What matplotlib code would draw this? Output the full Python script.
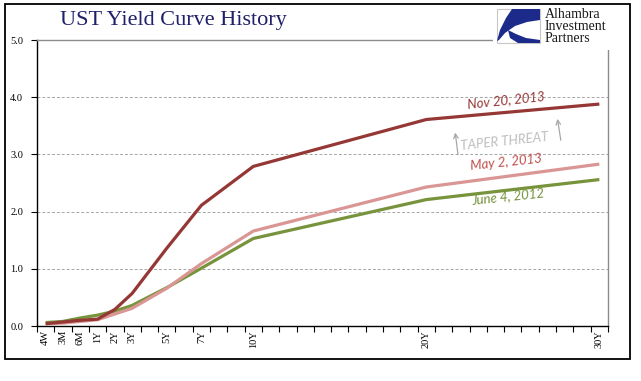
import numpy as np
import matplotlib
matplotlib.use('Agg')
import matplotlib.pyplot as plt
from matplotlib.patches import Rectangle, Polygon

# maturities on a category axis: 4W, 3M, 6M, then every year 1Y..30Y
categories = ['4W', '3M', '6M'] + ['%dY' % y for y in range(1, 31)]
shown = ['4W', '3M', '6M', '1Y', '2Y', '3Y', '5Y', '7Y', '10Y', '20Y', '30Y']

jun_2012 = [0.06, 0.08, 0.14, 0.19, 0.26, 0.36, 0.67, 1.01, 1.53, 2.21, 2.56]
may_2013 = [0.04, 0.05, 0.08, 0.11, 0.21, 0.31, 0.66, 1.09, 1.66, 2.43, 2.83]
nov_2013 = [0.04, 0.07, 0.10, 0.12, 0.29, 0.57, 1.36, 2.11, 2.79, 3.61, 3.88]

series = [
    ('June 4, 2012', jun_2012, '#77933c'),
    ('May 2, 2013', may_2013, '#d99694'),
    ('Nov 20, 2013', nov_2013, '#953735'),
]

W, H = 641, 381
fig = plt.figure(figsize=(W / 100., H / 100.), dpi=100)

def fx(px):
    return px / float(W)

def fy(py):
    return 1 - py / float(H)

# outer frame
fig.patches.append(Rectangle((fx(5), fy(359)), fx(630) - fx(5), fy(4) - fy(359),
                             transform=fig.transFigure, fill=False,
                             edgecolor='black', linewidth=1.3))

ax = fig.add_axes([fx(37), fy(326), fx(608) - fx(37), fy(40) - fy(326)])

xpos = np.array([categories.index(c) for c in shown]) + 0.5
for name, vals, col in series:
    ax.plot(xpos, vals, color=col, linewidth=2.3, solid_capstyle='butt',
            solid_joinstyle='miter')

ax.set_xlim(0, len(categories))
ax.set_ylim(0, 5)

ax.set_xticks(np.arange(0, len(categories) + 1))
ax.set_xticklabels([])
ax.set_xticks(xpos, minor=True)
ax.set_xticklabels(shown, minor=True, rotation=90, family='Liberation Serif',
                   fontsize=7.5)
ax.tick_params(axis='x', which='major', length=4, width=0.8, direction='out')
ax.tick_params(axis='x', which='minor', length=0, pad=3)

yt = np.arange(0, 5.01, 1.0)
ax.set_yticks(yt)
ax.set_yticklabels(['%.1f' % v for v in yt], family='Liberation Serif',
                   fontsize=7.5)
ax.tick_params(axis='y', length=4, width=0.8, direction='out', pad=6)

for v in yt[1:-1]:
    ax.axhline(v, color='#a6a6a6', linewidth=0.7, linestyle=(0, (3, 2)), zorder=0)

ax.spines['left'].set_color('black')
ax.spines['bottom'].set_color('black')
ax.spines['top'].set_color('#8c8c8c')
ax.spines['right'].set_color('#8c8c8c')
for s in ax.spines.values():
    s.set_linewidth(1.0)

# labels for the lines
lab = dict(fontsize=9.5, family='Lato', style='italic', ha='center', va='center')
ax.text(27.1, 3.95, 'Nov 20, 2013', color='#953735', rotation=6, **lab)
ax.text(27.0, 3.22, 'TAPER THREAT', color='#bfbfbf', rotation=6, **lab)
ax.text(27.1, 2.87, 'May 2, 2013', color='#c0504d', rotation=6, **lab)
ax.text(27.2, 2.27, 'June 4, 2012', color='#77933c', rotation=6, **lab)

arr = dict(arrowstyle='->', color='#a6a6a6', linewidth=0.9, mutation_scale=8)
ax.annotate('', xy=(24.15, 3.43), xytext=(24.35, 2.95), arrowprops=arr)
ax.annotate('', xy=(30.05, 3.67), xytext=(30.3, 3.2), arrowprops=arr)

fig.text(fx(173), fy(20), 'UST Yield Curve History', family='Liberation Serif',
         fontsize=16, color='#1f1f6b', ha='center', va='center')

# logo block
lg = fig.add_axes([fx(493), fy(50), fx(627) - fx(493), fy(6) - fy(50)])
lg.set_xlim(493, 627)
lg.set_ylim(50, 6)
lg.axis('off')
lg.add_patch(Rectangle((493, 6), 134, 44, facecolor='white', edgecolor='none'))
lg.add_patch(Rectangle((497, 9), 43, 34, facecolor='white', edgecolor='#c8c8c8',
                       linewidth=0.8))
lg.add_patch(Polygon([(512, 9), (540, 9), (540, 20), (527, 22), (515, 26),
                      (505, 33), (499, 40), (497, 41), (500, 30), (506, 18)],
                     closed=True, facecolor='#1c2a8a', edgecolor='none'))
lg.add_patch(Polygon([(508, 30), (516, 34), (526, 38), (540, 40), (540, 43),
                      (518, 43), (510, 38)],
                     closed=True, facecolor='#1c2a8a', edgecolor='none'))
for i, t in enumerate(['Alhambra', 'Investment', 'Partners']):
    lg.text(545, 15 + 12 * i, t, family='Liberation Serif', fontsize=10,
            color='#1a1a1a', ha='left', va='center')

fig.savefig('out.png', dpi=100)
